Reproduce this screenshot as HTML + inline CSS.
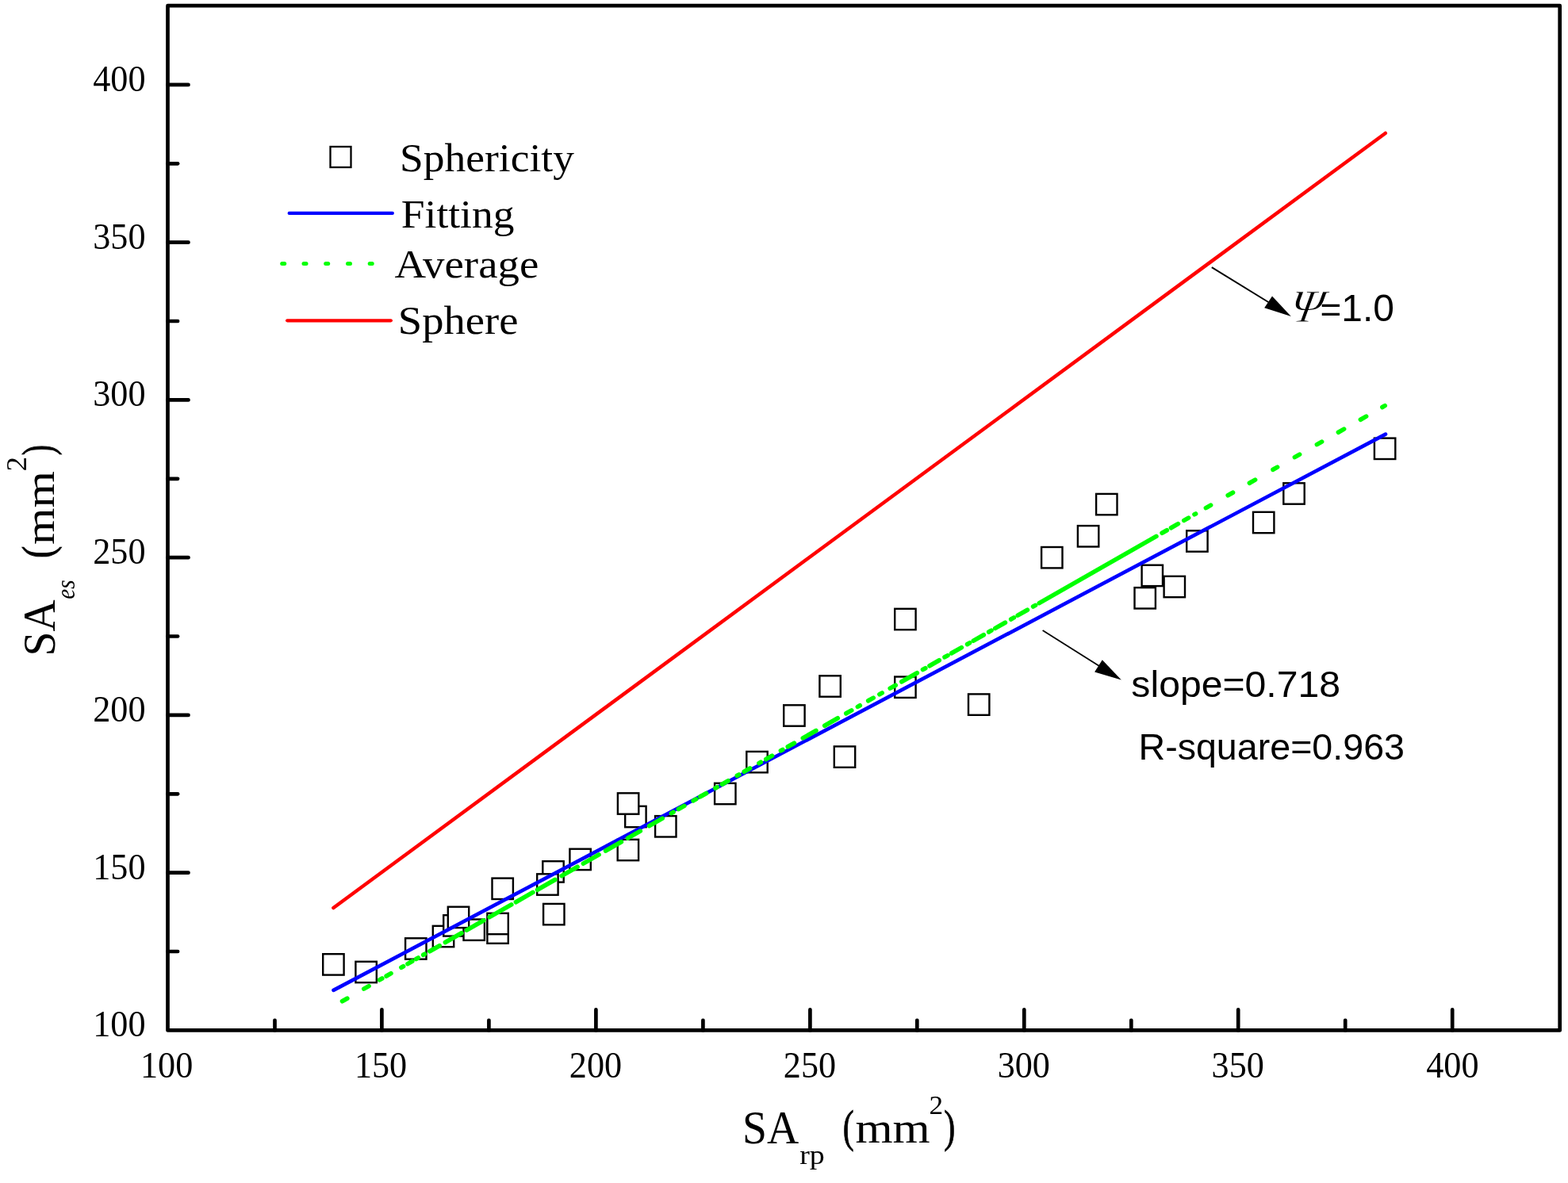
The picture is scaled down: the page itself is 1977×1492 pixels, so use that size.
<!DOCTYPE html><html><head><meta charset="utf-8"><title>SA plot</title><style>html,body{margin:0;padding:0;background:#fff;overflow:hidden;}svg{display:block;}text{font-family:"Liberation Serif",serif;fill:#000;}text.s{font-family:"Liberation Sans",sans-serif;}</style></head><body>
<svg width="1977" height="1492" viewBox="0 0 1977 1492">
<rect x="0" y="0" width="1977" height="1492" fill="#fff"/>
<line x1="420.4" y1="1145.0" x2="1746.8" y2="168.0" stroke="#f00" stroke-width="4.5" stroke-linecap="round"/>
<g fill="#fff" stroke="#000" stroke-width="2.4">
<rect x="407.2" y="1203.2" width="26.4" height="26.4"/>
<rect x="448.4" y="1212.8" width="26.4" height="26.4"/>
<rect x="511.1" y="1183.3" width="26.4" height="26.4"/>
<rect x="545.8" y="1167.8" width="26.4" height="26.4"/>
<rect x="559.2" y="1154.2" width="26.4" height="26.4"/>
<rect x="584.5" y="1159.5" width="26.4" height="26.4"/>
<rect x="564.8" y="1143.7" width="26.4" height="26.4"/>
<rect x="614.4" y="1163.4" width="26.4" height="26.4"/>
<rect x="614.4" y="1151.8" width="26.4" height="26.4"/>
<rect x="620.5" y="1107.6" width="26.4" height="26.4"/>
<rect x="684.3" y="1086.2" width="26.4" height="26.4"/>
<rect x="677.2" y="1102.3" width="26.4" height="26.4"/>
<rect x="685.1" y="1139.9" width="26.4" height="26.4"/>
<rect x="718.4" y="1070.7" width="26.4" height="26.4"/>
<rect x="778.7" y="1058.8" width="26.4" height="26.4"/>
<rect x="788.2" y="1016.8" width="26.4" height="26.4"/>
<rect x="778.9" y="1000.3" width="26.4" height="26.4"/>
<rect x="826.1" y="1029.1" width="26.4" height="26.4"/>
<rect x="901.1" y="987.8" width="26.4" height="26.4"/>
<rect x="941.3" y="947.9" width="26.4" height="26.4"/>
<rect x="988.2" y="889.3" width="26.4" height="26.4"/>
<rect x="1033.4" y="852.3" width="26.4" height="26.4"/>
<rect x="1051.8" y="941.4" width="26.4" height="26.4"/>
<rect x="1128.2" y="767.8" width="26.4" height="26.4"/>
<rect x="1128.2" y="853.5" width="26.4" height="26.4"/>
<rect x="1221.0" y="875.4" width="26.4" height="26.4"/>
<rect x="1313.1" y="690.0" width="26.4" height="26.4"/>
<rect x="1358.9" y="663.1" width="26.4" height="26.4"/>
<rect x="1382.1" y="622.9" width="26.4" height="26.4"/>
<rect x="1439.6" y="712.7" width="26.4" height="26.4"/>
<rect x="1430.5" y="741.1" width="26.4" height="26.4"/>
<rect x="1467.6" y="726.8" width="26.4" height="26.4"/>
<rect x="1496.2" y="669.3" width="26.4" height="26.4"/>
<rect x="1580.0" y="645.8" width="26.4" height="26.4"/>
<rect x="1618.3" y="609.3" width="26.4" height="26.4"/>
<rect x="1732.9" y="552.6" width="26.4" height="26.4"/>
</g>
<line x1="420.5" y1="1248.9" x2="1747" y2="547.6" stroke="#00f" stroke-width="4.6" stroke-linecap="round"/>
<path d="M431.5 1262.7L437.8 1259.2M458.8 1247.1L465.1 1243.6M478.5 1235.9L481.8 1234.0M487.1 1231.0L493.0 1227.6M505.9 1220.2L508.6 1218.7M514.0 1215.6L519.8 1212.3M524.6 1209.5L527.4 1208.0M533.7 1204.3L535.5 1203.3M541.8 1199.7L554.2 1192.7M561.4 1188.5L582.0 1176.8M588.4 1173.1L609.9 1160.8M617.2 1156.6L644.8 1140.9M650.4 1137.7L671.9 1125.4M677.5 1122.2L699.8 1109.5M708.2 1104.6L728.1 1093.3M735.4 1089.1L755.1 1077.9M763.6 1073.0L783.4 1061.7M791.5 1057.1L807.3 1048.1M818.6 1041.6L835.2 1032.1M846.5 1025.6L849.0 1024.2M855.4 1020.5L862.8 1016.4M874.1 1009.9L877.6 1007.9M882.9 1004.8L890.6 1000.5M901.8 994.0L904.3 992.6M910.3 989.2L918.1 984.8M929.3 978.3L931.8 976.9M938.2 973.2L945.6 969.0M956.9 962.6L959.3 961.2M965.8 957.5L973.5 953.1M984.4 946.8L986.9 945.5M993.3 941.8L1001.4 937.2M1012.3 930.9L1028.9 921.5M1039.7 915.2L1056.3 905.8M1066.8 899.8L1073.7 895.9M1081.4 891.4L1084.3 889.8M1094.7 883.8L1101.2 880.1M1108.9 875.7L1112.2 873.9M1122.2 868.1L1129.2 864.2M1136.8 859.8L1156.3 848.7M1163.5 844.5L1166.8 842.7M1172.0 839.7L1184.2 832.7M1191.0 828.8L1195.0 826.6M1199.8 823.8L1212.4 816.6M1219.6 812.5L1222.5 810.8M1227.3 808.1L1240.3 800.7M1246.7 797.0L1250.0 795.1M1254.8 792.4L1267.4 785.2M1274.7 781.0L1278.4 778.9M1283.2 776.1L1295.4 769.2M1302.6 765.0L1305.5 763.4M1310.3 760.6L1457.9 676.4M1465.1 672.2L1471.3 668.7M1476.5 665.7L1485.4 660.6M1492.8 656.4L1498.6 653.1M1506.0 648.8L1507.6 648.0M1520.4 640.6L1526.6 637.1M1548.2 624.7L1554.5 621.2M1575.4 609.2L1582.6 605.1M1605.0 592.3L1610.6 589.1M1632.4 576.6L1638.6 573.1M1660.4 560.6L1666.6 557.1M1687.4 545.2L1694.6 541.1M1715.4 529.2L1722.6 525.1M1742.9 513.5L1746.2 511.6" fill="none" stroke="#0f0" stroke-width="5.6" stroke-linecap="round"/>
<rect x="211.5" y="7.2" width="1755.2" height="1292.2" fill="none" stroke="#000" stroke-width="4.7" stroke-linejoin="round"/>
<g stroke="#000" stroke-width="4.7" stroke-linecap="round">
<line x1="346.5" y1="1299.4" x2="346.5" y2="1286.8"/>
<line x1="211.5" y1="1200.0" x2="224.1" y2="1200.0"/>
<line x1="481.4" y1="1299.4" x2="481.4" y2="1273.4"/>
<line x1="211.5" y1="1100.7" x2="237.5" y2="1100.7"/>
<line x1="616.4" y1="1299.4" x2="616.4" y2="1286.8"/>
<line x1="211.5" y1="1001.3" x2="224.1" y2="1001.3"/>
<line x1="751.4" y1="1299.4" x2="751.4" y2="1273.4"/>
<line x1="211.5" y1="901.9" x2="237.5" y2="901.9"/>
<line x1="886.4" y1="1299.4" x2="886.4" y2="1286.8"/>
<line x1="211.5" y1="802.5" x2="224.1" y2="802.5"/>
<line x1="1021.4" y1="1299.4" x2="1021.4" y2="1273.4"/>
<line x1="211.5" y1="703.2" x2="237.5" y2="703.2"/>
<line x1="1156.3" y1="1299.4" x2="1156.3" y2="1286.8"/>
<line x1="211.5" y1="603.8" x2="224.1" y2="603.8"/>
<line x1="1291.3" y1="1299.4" x2="1291.3" y2="1273.4"/>
<line x1="211.5" y1="504.4" x2="237.5" y2="504.4"/>
<line x1="1426.3" y1="1299.4" x2="1426.3" y2="1286.8"/>
<line x1="211.5" y1="405.0" x2="224.1" y2="405.0"/>
<line x1="1561.2" y1="1299.4" x2="1561.2" y2="1273.4"/>
<line x1="211.5" y1="305.7" x2="237.5" y2="305.7"/>
<line x1="1696.2" y1="1299.4" x2="1696.2" y2="1286.8"/>
<line x1="211.5" y1="206.3" x2="224.1" y2="206.3"/>
<line x1="1831.2" y1="1299.4" x2="1831.2" y2="1273.4"/>
<line x1="211.5" y1="106.9" x2="237.5" y2="106.9"/>
</g>
<text font-size="47" transform="translate(176.96,1358.50) scale(0.9400,1)">100</text>
<text font-size="47" transform="translate(117.20,1307.40) scale(0.9400,1)">100</text>
<text font-size="47" transform="translate(446.91,1358.50) scale(0.9400,1)">150</text>
<text font-size="47" transform="translate(117.20,1108.65) scale(0.9400,1)">150</text>
<text font-size="47" transform="translate(717.85,1358.50) scale(0.9400,1)">200</text>
<text font-size="47" transform="translate(117.20,909.90) scale(0.9400,1)">200</text>
<text font-size="47" transform="translate(987.80,1358.50) scale(0.9400,1)">250</text>
<text font-size="47" transform="translate(117.20,711.15) scale(0.9400,1)">250</text>
<text font-size="47" transform="translate(1257.64,1358.50) scale(0.9400,1)">300</text>
<text font-size="47" transform="translate(117.20,512.40) scale(0.9400,1)">300</text>
<text font-size="47" transform="translate(1527.59,1358.50) scale(0.9400,1)">350</text>
<text font-size="47" transform="translate(117.20,313.65) scale(0.9400,1)">350</text>
<text font-size="47" transform="translate(1798.21,1358.50) scale(0.9400,1)">400</text>
<text font-size="47" transform="translate(117.20,114.90) scale(0.9400,1)">400</text>
<text font-size="59.5" transform="translate(936.08,1441.80) scale(0.9359,1)">SA</text>
<text font-size="33.5" transform="translate(1008.14,1467.70) scale(1.1324,1)">rp</text>
<text font-size="57.5" transform="translate(1062.73,1439.60) scale(0.7229,1)" stroke="#000" stroke-width="0.9">(</text>
<text font-size="55" transform="translate(1078.39,1441.10) scale(1.1017,1)">mm</text>
<text font-size="34" transform="translate(1171.41,1404.70) scale(1.0368,1)">2</text>
<text font-size="57.5" transform="translate(1190.33,1439.60) scale(0.7358,1)" stroke="#000" stroke-width="0.9">)</text>
<g transform="translate(68.5,823.8) rotate(-90)">
<text font-size="57.5" transform="translate(-3.61,0.00) scale(0.9655,1)">SA</text>
<text font-style="italic" font-size="33" transform="translate(68.02,25.10) scale(0.8894,1)">es</text>
<text font-size="54" transform="translate(119.92,-2.90) scale(0.8569,1)" stroke="#000" stroke-width="0.9">(</text>
<text font-size="53.8" transform="translate(136.91,-0.30) scale(1.1079,1)">mm</text>
<text font-size="34.8" transform="translate(229.24,-35.20) scale(1.0632,1)">2</text>
<text font-size="54" transform="translate(249.52,-2.90) scale(0.7265,1)" stroke="#000" stroke-width="0.9">)</text>
</g>
<rect x="416.5" y="185" width="26" height="26" fill="none" stroke="#000" stroke-width="2.3"/>
<text font-size="50.5" transform="translate(504.12,215.50) scale(1.0587,1)">Sphericity</text>
<line x1="364.7" y1="268.9" x2="494.8" y2="268.9" stroke="#00f" stroke-width="4.3" stroke-linecap="round"/>
<text font-size="50.5" transform="translate(505.80,286.90) scale(1.0589,1)">Fitting</text>
<line x1="355.7" y1="332.6" x2="358.7" y2="332.6" stroke="#0f0" stroke-width="5" stroke-linecap="round"/>
<line x1="383.0" y1="332.6" x2="386.0" y2="332.6" stroke="#0f0" stroke-width="5" stroke-linecap="round"/>
<line x1="410.7" y1="332.6" x2="413.7" y2="332.6" stroke="#0f0" stroke-width="5" stroke-linecap="round"/>
<line x1="438.5" y1="332.6" x2="441.5" y2="332.6" stroke="#0f0" stroke-width="5" stroke-linecap="round"/>
<line x1="466.2" y1="332.6" x2="469.2" y2="332.6" stroke="#0f0" stroke-width="5" stroke-linecap="round"/>
<text font-size="50.5" transform="translate(497.45,349.90) scale(1.0876,1)">Average</text>
<line x1="362.2" y1="404.3" x2="492.8" y2="404.3" stroke="#f00" stroke-width="4.3" stroke-linecap="round"/>
<text font-size="50.5" transform="translate(501.85,420.80) scale(1.0815,1)">Sphere</text>
<line x1="1527.8" y1="337.1" x2="1600" y2="381.5" stroke="#000" stroke-width="2"/>
<polygon points="1604,373.4 1594.2,388.2 1627.8,398.9" fill="#000"/>
<text font-style="italic" font-size="58.4" stroke="#fff" stroke-width="1.0" transform="translate(1623.0,406.3) scale(1.035,1) skewX(-10)">&#936;</text>
<text class="s" font-size="100" transform="translate(1664.4,405.05) scale(0.458,0.45)">=</text>
<text class="s" font-size="47.9" transform="translate(1691.3,404.8)">1.0</text>
<line x1="1314.6" y1="795" x2="1386" y2="840" stroke="#000" stroke-width="1.8"/>
<polygon points="1389.8,832.3 1380.1,847.5 1413.8,857.5" fill="#000"/>
<text class="s" font-size="46" transform="translate(1426.36,879.20) scale(1.0469,1)">slope=0.718</text>
<text class="s" font-size="46.5" transform="translate(1435.47,957.50) scale(1.0025,1)">R-square=0.963</text>
</svg></body></html>
